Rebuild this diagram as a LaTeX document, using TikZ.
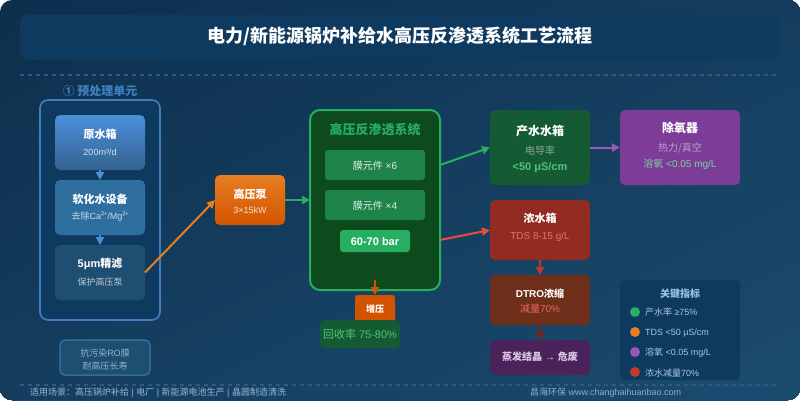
\documentclass[tikz,border=0pt]{standalone}
\usepackage{fontspec}
\usetikzlibrary{arrows.meta,calc}
\setmainfont{Liberation Sans}
\newfontfamily\cjk{Noto Sans CJK SC}
\newfontfamily\nsans{Noto Sans}
\newcommand{\C}[1]{{\cjk #1}}
\newcommand{\fs}[1]{\fontsize{#1}{#1}\selectfont}
\definecolor{bgA}{HTML}{0E2F4D}
\definecolor{bgB}{HTML}{1B4C70}
\definecolor{band}{HTML}{0F3A5F}
\definecolor{dashc}{HTML}{2A5A8A}
\definecolor{blueA}{HTML}{4A90D9}
\definecolor{blueH}{HTML}{3F7FC0}
\definecolor{blueB}{HTML}{35628F}
\definecolor{soft}{HTML}{2E6FA0}
\definecolor{filt}{HTML}{1F4F70}
\definecolor{orA}{HTML}{E67E22}
\definecolor{orB}{HTML}{D35400}
\definecolor{grn}{HTML}{27AE60}
\definecolor{roF}{HTML}{0D4A1E}
\definecolor{memb}{HTML}{1E8449}
\definecolor{prod}{HTML}{145A32}
\definecolor{mint}{HTML}{4FC37A}
\definecolor{purp}{HTML}{7D3C98}
\definecolor{purpL}{HTML}{9B59B6}
\definecolor{brine}{HTML}{922B21}
\definecolor{redL}{HTML}{E74C3C}
\definecolor{redD}{HTML}{C0392B}
\definecolor{redDD}{HTML}{7B241C}
\definecolor{dtro}{HTML}{6E2F1A}
\definecolor{evap}{HTML}{4A235A}
\definecolor{legendc}{HTML}{A9C6DE}
\tikzset{
  x=1pt,y=-1pt,
  box/.style={rectangle,rounded corners=#1,inner sep=0pt,outer sep=0pt},
  box/.default=6pt,
  lbl/.style={inner sep=0pt,outer sep=0pt,align=center,anchor=center},
  conn/.style={line width=2pt,-{Triangle[length=8pt,width=8pt]},shorten >=0pt},
  dashrule/.style={line width=1.3pt,dashc,dash pattern=on 4pt off 4pt},
  dot/.style={circle,inner sep=0pt,outer sep=0pt,minimum size=10pt},
  legendtxt/.style={lbl,anchor=west,text=legendc,font=\fs{9}},
}
\begin{document}
\begin{tikzpicture}
\useasboundingbox (0,0) rectangle (800,400);
\fill[white] (0,0) rectangle (800,400);
\begin{scope}
\clip[rounded corners=12pt] (0,0) rectangle (800,400);
\fill[bgA] (0,0) rectangle (800,400);
\foreach \i in {1,...,40}{
  \pgfmathsetmacro{\s}{2*\i/40}
  \pgfmathsetmacro{\p}{100*\i/40}
  \pgfmathsetmacro{\xa}{800*\s+800}
  \pgfmathsetmacro{\xb}{800*\s-1600}
  \fill[bgB!\p!bgA] (\xa,-400) -- (\xb,800) -- (3000,800) -- (3000,-400) -- cycle;
}
\end{scope}
% title
\node[box=8pt,fill=band,minimum width=760pt,minimum height=45pt] (titleband) at (400,37.5) {};
\node[lbl,text=white,font=\fs{18}\bfseries] (title) at (400,36) {\C{\bfseries 电力/新能源锅炉补给水高压反渗透系统工艺流程}};
\coordinate (ruleAl) at (20,75); \coordinate (ruleAr) at (780,75);
\coordinate (ruleBl) at (20,385); \coordinate (ruleBr) at (780,385);
\draw[dashrule] (ruleAl) -- (ruleAr);
\draw[dashrule] (ruleBl) -- (ruleBr);
% pretreatment
\node[lbl,text=blueH,font=\fs{12}] (prehead) at (100,91) {\C{\bfseries ① 预处理单元}};
\node[box=8pt,draw=blueH,line width=1.6pt,fill=band,minimum width=120pt,minimum height=220pt] (pre) at (100,210) {};
\node[box=5pt,top color=blueA,bottom color=blueB,minimum width=90pt,minimum height=55pt] (raw) at (100,142.5) {};
\node[box=5pt,fill=soft,minimum width=90pt,minimum height=55pt] (softener) at (100,207.5) {};
\node[box=5pt,fill=filt,minimum width=90pt,minimum height=55pt] (filter) at (100,272.5) {};
\node[lbl,text=white,font=\fs{11}] (rawA) at (100,134) {\C{\bfseries 原水箱}};
\node[lbl,text=white!75!blueA,font=\fs{9}] (rawB) at (100,152) {200m³/d};
\node[lbl,text=white,font=\fs{11}] (softA) at (100,199) {\C{\bfseries 软化水设备}};
\node[lbl,text=white!75!soft,font=\fs{9}] (softB) at (100,217) {\C{去除}Ca{\nsans ²⁺}/Mg{\nsans ²⁺}};
\node[lbl,text=white,font=\fs{11}] (filtA) at (100,264) {\textbf{5μm}\C{\bfseries 精滤}};
\node[lbl,text=white!70!filt,font=\fs{9}] (filtB) at (100,282) {\C{保护高压泵}};
\draw[conn,blueA] (raw) -- (softener);
\draw[conn,blueA] (softener) -- (filter);
% membrane note
\node[box=5pt,draw=soft,line width=1.5pt,fill=filt!85!bgB,minimum width=90pt,minimum height=35pt] (note) at (105,357.5) {};
\node[lbl,text=legendc!80!blueB,font=\fs{9}] (noteA) at (105,353.5) {\C{抗污染}RO\C{膜}};
\node[lbl,text=legendc!80!blueB,font=\fs{9}] (noteB) at (105,366.5) {\C{耐高压长寿}};
% pump
\node[box=5pt,top color=orA,bottom color=orB,minimum width=70pt,minimum height=50pt] (pump) at (250,200) {};
\node[lbl,text=white,font=\fs{11}] (pumpA) at (250,194) {\C{\bfseries 高压泵}};
\node[lbl,text=white!75!orA,font=\fs{9}] (pumpB) at (250,210) {3×15kW};
\draw[conn,orA] (filter.east) -- (pump.west);
% RO
\node[box=10pt,draw=grn,line width=2pt,fill=roF,minimum width=130pt,minimum height=180pt] (ro) at (375,200) {};
\draw[conn,grn] (pump.east) -- (ro.west);
\node[lbl,text=grn,font=\fs{13}] (roT) at (375,130) {\C{\bfseries 高压反渗透系统}};
\node[box=3pt,fill=memb,minimum width=100pt,minimum height=30pt] (mA) at (375,165) {};
\node[box=3pt,fill=memb,minimum width=100pt,minimum height=30pt] (mB) at (375,205) {};
\node[lbl,text=white!88!memb,font=\fs{10}] (mAt) at (375,166) {\C{膜元件} ×6};
\node[lbl,text=white!88!memb,font=\fs{10}] (mBt) at (375,206) {\C{膜元件} ×4};
\node[box=3pt,fill=grn,minimum width=70pt,minimum height=22pt] (bar) at (375,241) {};
\node[lbl,text=white,font=\fs{11}\bfseries] (bart) at (375,242) {60-70 bar};
% booster
\node[box=3pt,fill=orB,minimum width=40pt,minimum height=32pt] (boost) at (375,311) {};
\node[lbl,text=white,font=\fs{9}] (boostt) at (375,309.5) {\C{\bfseries 增压}};
\coordinate (boostFrom) at (375,280);
\draw[conn,orB] (boostFrom) -- (boost.north);
\node[box=5pt,fill=prod,minimum width=80pt,minimum height=28pt] (rec) at (360,334) {};
\node[lbl,text=mint,font=\fs{11}] (rect) at (360,334) {\C{回收率} 75-80\%};
% product
\node[box=5pt,fill=prod,minimum width=100pt,minimum height=75pt] (product) at (540,147.5) {};
\node[lbl,text=white,font=\fs{12}] (prodA) at (540,131) {\C{\bfseries 产水水箱}};
\node[lbl,text=white!50!prod,font=\fs{10}] (prodB) at (540,151) {\C{电导率}};
\node[lbl,text=mint,font=\fs{11}\bfseries] (prodC) at (540,168) {<50 μS/cm};
\coordinate (roOutA) at (440,165);
\draw[conn,grn] (roOutA) -- (product.west);
% deaerator
\node[box=5pt,fill=purp,minimum width=120pt,minimum height=75pt] (dea) at (680,147.5) {};
\node[lbl,text=white,font=\fs{12}] (deaA) at (680,128) {\C{\bfseries 除氧器}};
\node[lbl,text=white!50!purp,font=\fs{10}] (deaB) at (680,148) {\C{热力/真空}};
\node[lbl,text=mint!75!white,font=\fs{10}] (deaC) at (680,164) {\C{溶氧} <0.05 mg/L};
\draw[conn,purpL] (product.east) -- (dea.west);
% brine
\node[box=5pt,fill=brine,minimum width=100pt,minimum height=60pt] (brinebox) at (540,230) {};
\node[lbl,text=white,font=\fs{11}] (brA) at (540,218) {\C{\bfseries 浓水箱}};
\node[lbl,text=redL!80!white,font=\fs{10}] (brB) at (540,237) {TDS 8-15 g/L};
\coordinate (roOutB) at (440,240);
\draw[conn,redL] (roOutB) -- (brinebox.west);
% DTRO
\node[box=5pt,fill=dtro,minimum width=100pt,minimum height=50pt] (dtrobox) at (540,300) {};
\node[lbl,text=white,font=\fs{10}] (dtA) at (540,293.5) {\textbf{DTRO}\C{\bfseries 浓缩}};
\node[lbl,text=redL!85!white,font=\fs{10}] (dtB) at (540,308.5) {\C{减量}70\%};
\draw[conn,redD] (brinebox.south) -- (dtrobox.north);
% evaporation
\node[box=5pt,fill=evap,minimum width=100pt,minimum height=35pt] (evapbox) at (540,357.5) {};
\node[lbl,text=purpL!35!white,font=\fs{10}] (evapt) at (540,357) {\C{\bfseries 蒸发结晶} → \C{\bfseries 危废}};
\draw[conn,redDD] (dtrobox.south) -- (evapbox.north);
% legend
\node[box=5pt,fill=band,minimum width=120pt,minimum height=100pt] (key) at (680,330) {};
\node[lbl,text=blueA!55!white,font=\fs{10}] (keyT) at (680,293.5) {\C{\bfseries 关键指标}};
\node[dot,fill=grn] (dA) at (635,312) {};
\node[dot,fill=orA] (dB) at (635,332) {};
\node[dot,fill=purpL] (dC) at (635,352) {};
\node[dot,fill=redD] (dD) at (635,372) {};
\node[legendtxt] (lA) at (645,312.5) {\C{产水率} ≥75\%};
\node[legendtxt] (lB) at (645,333) {TDS <50 μS/cm};
\node[legendtxt] (lC) at (645,353) {\C{溶氧} <0.05 mg/L};
\node[legendtxt] (lD) at (645,373) {\C{浓水减量}70\%};
% footer
\node[lbl,anchor=west,text=legendc!85!blueB,font=\fs{9}] (footL) at (30,393) {\C{适用场景：}\C{高压锅炉补给} | \C{电厂} | \C{新能源电池生产} | \C{晶圆制造清洗}};
\node[lbl,anchor=west,text=legendc!75!blueB,font=\fs{9}] (footR) at (530,392.5) {\C{昌海环保} www.changhaihuanbao.com};
\end{tikzpicture}
\end{document}
